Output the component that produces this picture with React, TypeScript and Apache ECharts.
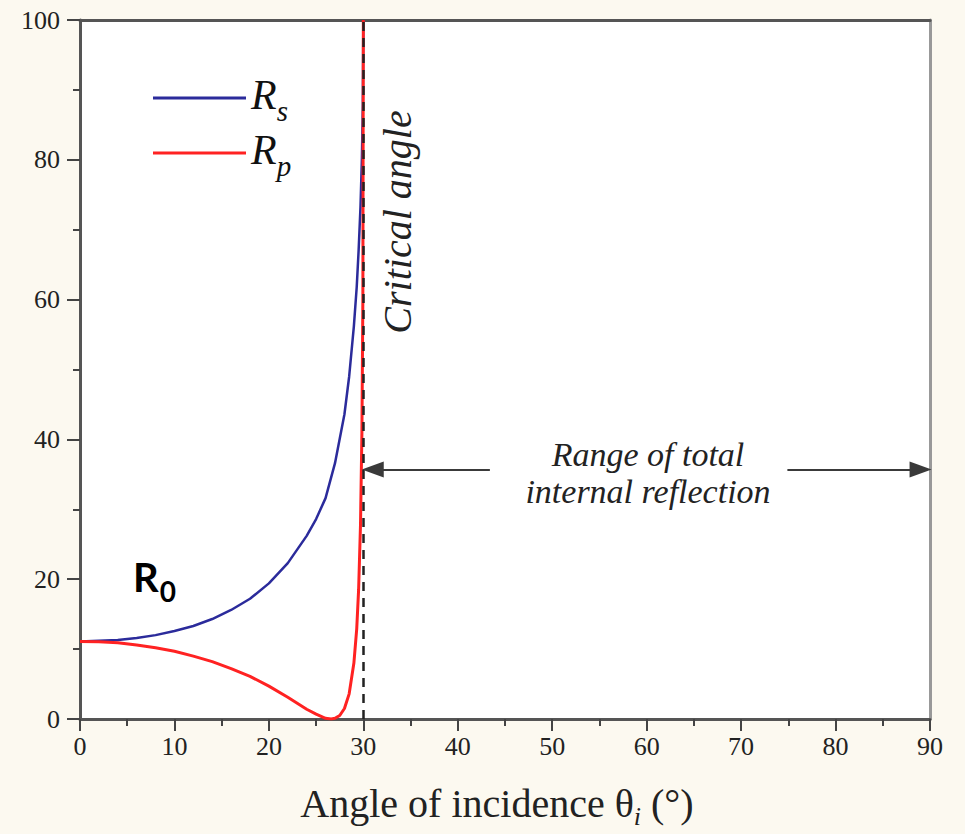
import React, { useEffect, useRef } from "react";
import * as echarts from "echarts";

// Angles of incidence (degrees) and reflectance (%)
const rsAngles = [0, 2, 4, 6, 8, 10, 12, 14, 16, 18, 20, 22, 24, 25, 26, 27, 28, 28.5, 29, 29.3, 29.5, 29.7, 29.85, 29.95, 30];
const rsValues = [11.1, 11.2, 11.3, 11.6, 12.0, 12.6, 13.3, 14.3, 15.6, 17.2, 19.4, 22.3, 26.2, 28.6, 31.6, 36.6, 43.6, 49.0, 56.2, 61.8, 67.0, 73.3, 80.3, 88.1, 100];
const rpAngles = [0, 2, 4, 6, 8, 10, 12, 14, 16, 18, 20, 22, 24, 25, 26, 26.6, 27, 27.5, 28, 28.5, 29, 29.3, 29.5, 29.7, 29.85, 29.95, 30];
const rpValues = [11.1, 11.05, 10.9, 10.6, 10.2, 9.7, 9.0, 8.2, 7.2, 6.1, 4.7, 3.1, 1.4, 0.7, 0.1, 0, 0.1, 0.5, 1.5, 3.6, 8.0, 12.9, 18.5, 27.8, 41.0, 60.0, 100];

const seriesNames = ["Rs", "Rp"];
const criticalAngle = 30;
const tirArrowY = 35.7;
const tirLeftSegment = [31, 43.4];
const tirRightSegment = [74.9, 89];

const serif = "Liberation Serif";

export default function App() {
  const ref = useRef<HTMLDivElement>(null);

  useEffect(() => {
    const chart = echarts.init(ref.current as HTMLDivElement, null, { renderer: "svg" });
    const rsData = rsAngles.map((a, i) => [a, rsValues[i]]);
    const rpData = rpAngles.map((a, i) => [a, rpValues[i]]);

    chart.setOption({
      animation: false,
      backgroundColor: "#fcf9f0",
      grid: {
        left: 80,
        right: 35,
        top: 20,
        bottom: 111,
        show: true,
        backgroundColor: "#ffffff",
        borderWidth: 0,
      },
      legend: {
        orient: "vertical",
        left: 153,
        top: 74,
        padding: 0,
        itemGap: 4,
        itemWidth: 93,
        itemHeight: 3,
        icon: "rect",
        data: seriesNames,
        formatter: (name: string) => `{r|R}{s|${name.slice(1)}}`,
        textStyle: {
          color: "#111",
          rich: {
            r: { fontSize: 42, fontStyle: "italic", fontFamily: serif, color: "#111", lineHeight: 48, verticalAlign: "top" },
            s: { fontSize: 29, fontStyle: "italic", fontFamily: serif, color: "#111", lineHeight: 28, padding: [22, 0, 0, 0], verticalAlign: "top" },
          },
        },
      },
      xAxis: [
        {
          type: "value",
          min: 0,
          max: 90,
          interval: 10,
          axisLine: { show: true, onZero: false, lineStyle: { color: "#555", width: 3 } },
          axisTick: { show: true, length: 12, lineStyle: { color: "#444", width: 2 } },
          minorTick: { show: true, splitNumber: 2, length: 7, lineStyle: { color: "#444", width: 2 } },
          splitLine: { show: false },
          minorSplitLine: { show: false },
          axisLabel: { margin: 14, fontSize: 26, fontFamily: serif, color: "#222" },
          name: "{a|Angle of incidence θ}{i|i}{a| (°)}",
          nameLocation: "middle",
          nameGap: 64,
          nameTextStyle: {
            fontFamily: serif,
            fontSize: 40,
            color: "#222",
            padding: [0, 16, 0, 0],
            rich: {
              a: { fontSize: 40, fontFamily: serif, color: "#222", lineHeight: 46, verticalAlign: "top" },
              i: { fontSize: 26, fontFamily: serif, fontStyle: "italic", color: "#222", lineHeight: 26, padding: [20, 0, 0, 0], verticalAlign: "top" },
            },
          },
        },
        {
          type: "value",
          position: "top",
          min: 0,
          max: 90,
          axisLine: { show: true, onZero: false, lineStyle: { color: "#555", width: 3 } },
          axisTick: { show: false },
          axisLabel: { show: false },
          splitLine: { show: false },
        },
      ],
      yAxis: [
        {
          type: "value",
          min: 0,
          max: 100,
          interval: 20,
          axisLine: { show: true, onZero: false, lineStyle: { color: "#555", width: 3 } },
          axisTick: { show: true, length: 13, lineStyle: { color: "#444", width: 2 } },
          minorTick: { show: true, splitNumber: 2, length: 7, lineStyle: { color: "#444", width: 2 } },
          splitLine: { show: false },
          minorSplitLine: { show: false },
          axisLabel: { margin: 20, fontSize: 26, fontFamily: serif, color: "#222" },
        },
        {
          type: "value",
          position: "right",
          min: 0,
          max: 100,
          axisLine: { show: true, onZero: false, lineStyle: { color: "#999", width: 3 } },
          axisTick: { show: false },
          axisLabel: { show: false },
          splitLine: { show: false },
        },
      ],
      series: [
        {
          name: seriesNames[0],
          type: "line",
          data: rsData,
          symbol: "none",
          smooth: false,
          lineStyle: { color: "#2b2b9b", width: 2.5 },
          itemStyle: { color: "#2b2b9b" },
          markLine: {
            silent: true,
            animation: false,
            symbol: "none",
            label: { show: false },
            lineStyle: { color: "#222", width: 2.5, type: [9, 7] },
            data: [{ xAxis: criticalAngle }],
          },
        },
        {
          name: seriesNames[1],
          type: "line",
          data: rpData,
          symbol: "none",
          smooth: false,
          lineStyle: { color: "#ff2222", width: 3 },
          itemStyle: { color: "#ff2222" },
          markLine: {
            silent: true,
            animation: false,
            label: { show: false },
            lineStyle: { color: "#3a3a3a", width: 2, type: "solid" },
            data: [
              [
                { coord: [tirLeftSegment[0], tirArrowY], symbol: "triangle", symbolSize: [16, 22] },
                { coord: [tirLeftSegment[1], tirArrowY], symbol: "none" },
              ],
              [
                { coord: [tirRightSegment[0], tirArrowY], symbol: "none" },
                { coord: [tirRightSegment[1], tirArrowY], symbol: "triangle", symbolSize: [16, 22] },
              ],
            ],
          },
        },
      ],
      graphic: [
        {
          type: "text",
          x: 397,
          y: 222,
          rotation: Math.PI / 2,
          style: {
            text: "Critical angle",
            fontSize: 40,
            fontStyle: "italic",
            fontFamily: serif,
            fill: "#222",
            align: "center",
            verticalAlign: "middle",
          },
        },
        {
          type: "text",
          x: 648,
          y: 473,
          style: {
            text: "Range of total\ninternal reflection",
            fontSize: 34,
            fontStyle: "italic",
            fontFamily: serif,
            lineHeight: 37,
            fill: "#222",
            align: "center",
            verticalAlign: "middle",
          },
        },
        {
          type: "text",
          left: 133,
          top: 557,
          style: {
            text: "{a|R}{b|0}",
            fill: "#000",
            rich: {
              a: { fontSize: 40, fontWeight: "bold", fontFamily: "Lato", fill: "#000", lineHeight: 44, verticalAlign: "top" },
              b: { fontSize: 28, fontWeight: "bold", fontFamily: "Lato", fill: "#000", lineHeight: 28, padding: [20, 0, 0, 1], verticalAlign: "top" },
            },
          },
        },
      ],
    });

    return () => chart.dispose();
  }, []);

  return (
    <div
      ref={ref}
      style={{ position: "absolute", left: 0, top: 0, width: 965, height: 834, background: "#fcf9f0" }}
    />
  );
}
